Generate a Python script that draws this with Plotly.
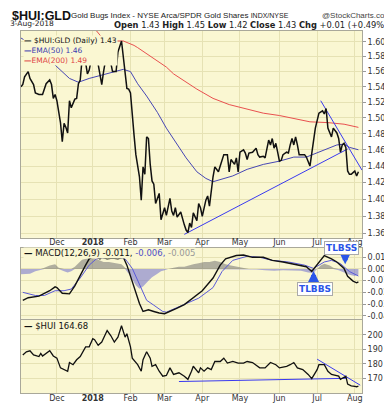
import math
import plotly.graph_objects as go

# ---------------- data ----------------
ratio_dates = ["2017-11-02","2017-11-03","2017-11-06","2017-11-08","2017-11-09","2017-11-13","2017-11-14","2017-11-16",
"2017-11-20","2017-11-21","2017-11-22","2017-11-27","2017-11-28","2017-11-29","2017-11-30","2017-12-01","2017-12-05",
"2017-12-06","2017-12-07","2017-12-08","2017-12-11","2017-12-12","2017-12-13","2017-12-15","2017-12-18","2017-12-19",
"2017-12-20","2017-12-21","2017-12-26","2017-12-27","2017-12-28","2018-01-02","2018-01-03","2018-01-04","2018-01-08",
"2018-01-09","2018-01-10","2018-01-11","2018-01-12","2018-01-16","2018-01-17","2018-01-18","2018-01-22","2018-01-23",
"2018-01-25","2018-01-26","2018-01-29","2018-01-30","2018-01-31","2018-02-01","2018-02-05","2018-02-06","2018-02-08",
"2018-02-09","2018-02-12","2018-02-13","2018-02-14","2018-02-15","2018-02-16","2018-02-20","2018-02-21","2018-02-22",
"2018-02-26","2018-02-27","2018-03-01","2018-03-02","2018-03-06","2018-03-07","2018-03-08","2018-03-09","2018-03-12",
"2018-03-14","2018-03-16","2018-03-19","2018-03-20","2018-03-21","2018-03-22","2018-03-23","2018-03-27","2018-03-28",
"2018-03-29","2018-04-02","2018-04-04","2018-04-05","2018-04-06","2018-04-09","2018-04-10","2018-04-11","2018-04-13",
"2018-04-16","2018-04-17","2018-04-18","2018-04-20","2018-04-23","2018-04-24","2018-04-26","2018-04-27","2018-04-30",
"2018-05-01","2018-05-03","2018-05-04","2018-05-07","2018-05-08","2018-05-10","2018-05-14","2018-05-15","2018-05-16",
"2018-05-18","2018-05-21","2018-05-23","2018-05-24","2018-05-25","2018-05-29","2018-05-30","2018-05-31","2018-06-01",
"2018-06-04","2018-06-05","2018-06-07","2018-06-08","2018-06-11","2018-06-12","2018-06-13","2018-06-14","2018-06-15",
"2018-06-18","2018-06-21","2018-06-22","2018-06-26","2018-06-28","2018-06-29","2018-07-03","2018-07-06","2018-07-09",
"2018-07-10","2018-07-11","2018-07-12","2018-07-13","2018-07-16","2018-07-18","2018-07-19","2018-07-20","2018-07-23",
"2018-07-24","2018-07-25","2018-07-26","2018-07-27","2018-07-30","2018-07-31","2018-08-01","2018-08-02","2018-08-03"]
ratio_vals = [1.540,1.543,1.553,1.560,1.551,1.543,1.532,1.530,
1.530,1.538,1.544,1.549,1.543,1.525,1.530,1.522,1.494,
1.470,1.493,1.488,1.481,1.522,1.513,1.524,1.525,1.544,
1.549,1.576,1.572,1.557,1.562,1.586,1.583,1.583,1.557,
1.543,1.560,1.575,1.590,1.601,1.572,1.560,1.560,1.586,
1.601,1.582,1.560,1.538,1.537,1.532,1.478,1.454,1.427,
1.399,1.439,1.430,1.476,1.474,1.442,1.422,1.418,1.395,
1.407,1.376,1.390,1.381,1.401,1.386,1.381,1.390,1.379,
1.385,1.370,1.364,1.361,1.372,1.367,1.384,1.375,1.395,
1.390,1.380,1.399,1.404,1.392,1.411,1.427,1.439,1.433,
1.440,1.448,1.454,1.454,1.433,1.448,1.442,1.450,1.433,
1.457,1.460,1.456,1.448,1.456,1.457,1.462,1.454,1.451,
1.452,1.450,1.472,1.466,1.474,1.462,1.468,1.457,1.446,
1.447,1.454,1.457,1.456,1.466,1.474,1.466,1.476,1.466,
1.454,1.454,1.451,1.440,1.474,1.487,1.506,1.509,1.505,
1.512,1.487,1.482,1.476,1.487,1.481,1.474,1.457,1.466,
1.468,1.463,1.434,1.430,1.430,1.432,1.434,1.428,1.433]

ema50_dates = ["2017-11-02","2017-11-13","2017-11-21","2017-12-01","2017-12-12","2017-12-19","2017-12-28","2018-01-10",
"2018-01-19","2018-01-26","2018-02-01","2018-02-07","2018-02-14","2018-02-23","2018-03-02","2018-03-12","2018-03-19",
"2018-03-27","2018-04-04","2018-04-10","2018-04-17","2018-04-25","2018-05-07","2018-05-18","2018-06-01","2018-06-13",
"2018-06-22","2018-07-02","2018-07-11","2018-07-18","2018-07-24","2018-07-27","2018-08-03"]
ema50_vals = [1.605,1.595,1.582,1.566,1.551,1.546,1.551,1.556,
1.560,1.563,1.560,1.544,1.528,1.507,1.487,1.466,1.450,
1.433,1.425,1.421,1.424,1.428,1.436,1.442,1.446,1.451,
1.451,1.456,1.462,1.466,1.467,1.463,1.460]

ema200_dates = ["2017-11-02","2017-12-01","2018-01-04","2018-01-10","2018-01-18","2018-01-26","2018-02-05","2018-02-07",
"2018-03-02","2018-03-08","2018-03-27","2018-04-04","2018-04-10","2018-04-23","2018-05-07","2018-05-18","2018-06-01",
"2018-06-13","2018-06-26","2018-07-11","2018-07-24","2018-08-03"]
ema200_vals = [1.660,1.640,1.615,1.603,1.601,1.601,1.595,1.592,
1.566,1.557,1.537,1.530,1.525,1.517,1.511,1.506,1.503,
1.499,1.495,1.494,1.492,1.488]

macd_dates = ["2017-11-03","2017-11-08","2017-11-16","2017-11-27","2017-11-30","2017-12-01","2017-12-06","2017-12-12",
"2017-12-15","2017-12-20","2017-12-26","2017-12-28","2018-01-03","2018-01-08","2018-01-09","2018-01-12","2018-01-18",
"2018-01-23","2018-01-26","2018-01-30","2018-02-02","2018-02-07","2018-02-08","2018-02-12","2018-02-15","2018-02-21",
"2018-02-26","2018-03-01","2018-03-06","2018-03-12","2018-03-16","2018-03-21","2018-03-23","2018-04-02","2018-04-10",
"2018-04-16","2018-04-19","2018-04-27","2018-05-03","2018-05-10","2018-05-18","2018-05-25","2018-06-05","2018-06-12",
"2018-06-19","2018-06-22","2018-06-27","2018-07-02","2018-07-09","2018-07-13","2018-07-18","2018-07-24","2018-07-26",
"2018-07-31","2018-08-02","2018-08-03"]
macd_vals = [-0.0268,-0.0246,-0.0233,-0.0186,-0.0153,-0.0159,-0.0208,-0.0213,
-0.0145,-0.0049,0.0033,0.0087,0.0115,0.0087,0.0100,0.0087,0.0093,
0.0087,0.0100,0.0033,-0.0104,-0.0240,-0.0295,-0.0364,-0.0350,-0.0364,
-0.0377,-0.0383,-0.0364,-0.0336,-0.0305,-0.0268,-0.0246,-0.0186,-0.0077,
0.0033,0.0087,0.0115,0.0120,0.0100,0.0100,0.0074,0.0060,0.0046,
0.0033,0.0019,-0.0022,0.0033,0.0115,0.0087,0.0060,0.0005,-0.0063,
-0.0104,-0.0118,-0.0110]

signal_dates = ["2017-11-03","2017-11-14","2017-11-21","2017-11-30","2017-12-07","2017-12-13","2017-12-20","2017-12-28",
"2018-01-04","2018-01-12","2018-01-24","2018-01-29","2018-02-02","2018-02-08","2018-02-14","2018-02-21","2018-02-28",
"2018-03-02","2018-03-13","2018-03-21","2018-03-28","2018-04-10","2018-04-17","2018-04-25","2018-05-07","2018-05-16",
"2018-05-25","2018-06-08","2018-06-21","2018-06-28","2018-07-09","2018-07-13","2018-07-20","2018-07-27","2018-08-02",
"2018-08-03"]
signal_vals = [-0.0200,-0.0227,-0.0227,-0.0186,-0.0186,-0.0172,-0.0077,0.0033,
0.0087,0.0100,0.0100,0.0087,0.0005,-0.0131,-0.0268,-0.0310,-0.0364,
-0.0370,-0.0323,-0.0280,-0.0250,-0.0159,-0.0022,0.0074,0.0109,0.0100,
0.0074,0.0060,0.0033,0.0005,0.0060,0.0074,0.0046,-0.0022,-0.0055,
-0.0060]

hist_dates = ["2017-11-02","2017-11-06","2017-11-09","2017-11-14","2017-11-17","2017-11-21","2017-11-27","2017-11-30",
"2017-12-04","2017-12-07","2017-12-11","2017-12-13","2017-12-15","2017-12-19","2017-12-21","2017-12-27","2018-01-02",
"2018-01-05","2018-01-10","2018-01-16","2018-01-22","2018-01-25","2018-01-29","2018-01-31","2018-02-02","2018-02-06",
"2018-02-08","2018-02-12","2018-02-15","2018-02-20","2018-02-23","2018-02-27","2018-03-01","2018-03-05","2018-03-08",
"2018-03-13","2018-03-16","2018-03-20","2018-03-23","2018-03-28","2018-04-03","2018-04-06","2018-04-11","2018-04-16",
"2018-04-19","2018-04-24","2018-04-27","2018-05-02","2018-05-08","2018-05-14","2018-05-21","2018-05-29","2018-06-05",
"2018-06-12","2018-06-19","2018-06-25","2018-06-28","2018-07-02","2018-07-05","2018-07-09","2018-07-12","2018-07-16",
"2018-07-19","2018-07-24","2018-07-27","2018-08-01","2018-08-03"]
hist_vals = [-0.0045,-0.0045,-0.0040,-0.0020,-0.0010,0.0010,0.0030,0.0040,
0.0010,-0.0020,-0.0030,-0.0020,0.0020,0.0050,0.0080,0.0090,0.0100,
0.0080,0.0060,0.0060,0.0050,0.0040,0.0010,-0.0040,-0.0090,-0.0140,
-0.0170,-0.0150,-0.0100,-0.0070,-0.0040,-0.0020,-0.0010,0.0000,0.0010,
0.0020,0.0020,0.0030,0.0040,0.0050,0.0060,0.0060,0.0070,0.0060,
0.0040,0.0030,0.0020,0.0010,0.0000,-0.0005,-0.0010,-0.0015,-0.0010,
-0.0010,-0.0015,-0.0030,-0.0035,0.0000,0.0030,0.0045,0.0030,0.0010,
-0.0010,-0.0030,-0.0050,-0.0060,-0.0050]

hui_dates = ["2017-11-03","2017-11-07","2017-11-09","2017-11-13","2017-11-16","2017-11-17","2017-11-20","2017-11-22",
"2017-11-27","2017-11-29","2017-12-01","2017-12-05","2017-12-07","2017-12-11","2017-12-12","2017-12-14","2017-12-18",
"2017-12-20","2017-12-26","2017-12-28","2018-01-02","2018-01-03","2018-01-05","2018-01-09","2018-01-12","2018-01-17",
"2018-01-19","2018-01-23","2018-01-25","2018-01-26","2018-01-29","2018-01-30","2018-02-01","2018-02-02","2018-02-07",
"2018-02-09","2018-02-12","2018-02-14","2018-02-16","2018-02-20","2018-02-22","2018-02-26","2018-02-28","2018-03-02",
"2018-03-06","2018-03-08","2018-03-13","2018-03-16","2018-03-20","2018-03-22","2018-03-23","2018-03-28","2018-03-29",
"2018-04-03","2018-04-05","2018-04-09","2018-04-11","2018-04-16","2018-04-18","2018-04-20","2018-04-25","2018-04-30",
"2018-05-03","2018-05-07","2018-05-10","2018-05-16","2018-05-21","2018-05-24","2018-05-30","2018-06-01","2018-06-07",
"2018-06-11","2018-06-13","2018-06-15","2018-06-20","2018-06-25","2018-06-27","2018-07-02","2018-07-03","2018-07-09",
"2018-07-11","2018-07-13","2018-07-17","2018-07-19","2018-07-20","2018-07-25","2018-07-26","2018-07-30","2018-08-01",
"2018-08-02","2018-08-03"]
hui_vals = [186.1,188.3,189.0,186.1,185.0,187.2,185.4,187.2,
189.0,185.4,183.9,177.2,176.0,174.9,180.9,179.4,182.8,
185.0,191.7,191.7,197.3,196.6,192.8,195.0,202.9,199.5,
195.0,198.4,206.2,201.7,198.4,200.7,191.7,183.9,179.4,
174.9,182.8,188.3,183.9,178.3,179.4,174.9,171.5,172.0,
177.2,172.7,173.8,171.5,169.3,174.9,178.3,173.8,177.2,
174.9,177.2,176.0,181.6,181.6,183.9,180.5,181.6,180.5,
180.5,181.6,180.9,177.2,177.2,180.9,179.4,177.2,178.3,
179.4,180.9,177.2,176.0,172.7,169.8,176.0,179.4,179.4,
174.9,172.7,172.0,171.5,169.3,171.5,166.0,164.8,164.4,
164.2,164.68]

# hand-drawn trend lines (endpoints)
ratio_up_dates, ratio_up_vals = ["2018-03-16", "2018-07-26"], [1.359, 1.461]
ratio_dn_dates, ratio_dn_vals = ["2018-07-05", "2018-08-07"], [1.522, 1.435]
hui_flat_dates, hui_flat_vals = ["2018-03-13", "2018-07-25"], [167.8, 170.0]
hui_dn_dates, hui_dn_vals = ["2018-07-02", "2018-08-06"], [183.2, 165.3]

month_ticks = ["2017-12-01","2018-01-02","2018-02-01","2018-03-01","2018-04-02","2018-05-01","2018-06-01","2018-07-02","2018-08-01"]
month_labels = ["Dec","<b>2018</b>","Feb","Mar","Apr","May","Jun","Jul","Aug"]
ratio_ticks = [1.36,1.38,1.40,1.42,1.44,1.46,1.48,1.50,1.52,1.54,1.56,1.58,1.60]
macd_ticks = [0.01,0.00,-0.01,-0.02,-0.03,-0.04]
macd_tick_labels = ["0.01","0.00","-0.01","-0.02","-0.03","-0.04"]
hui_ticks = [170,180,190,200]
holidays = ["2017-11-23","2017-12-25","2018-01-01","2018-01-15","2018-02-19","2018-03-30","2018-05-28","2018-07-04"]

# ---------------- styling ----------------
W, H = 392, 407
L, R, T, B = 13, 34, 23, 13
PW, PH = W - L - R, H - T - B
BG = "#faf7d2"
GRID = "#e6e2b4"
FRAME = "#a9a89a"
FONT = "DejaVu Sans"
TXT = "#333333"
BLUE_TL = "#3a3af0"
ARROW = "#2a55e8"

def px_x(X):
    return (X - L) / PW

def px_y(Y):
    return (H - B - Y) / PH

fig = go.Figure()

# main panel
fig.add_trace(go.Scatter(x=ema200_dates, y=ema200_vals, mode="lines", line=dict(color="#e8504f", width=1), xaxis="x", yaxis="y"))
fig.add_trace(go.Scatter(x=ema50_dates, y=ema50_vals, mode="lines", line=dict(color="#4646b4", width=1), xaxis="x", yaxis="y"))
fig.add_trace(go.Scatter(x=ratio_up_dates, y=ratio_up_vals, mode="lines", line=dict(color=BLUE_TL, width=1), xaxis="x", yaxis="y"))
fig.add_trace(go.Scatter(x=ratio_dn_dates, y=ratio_dn_vals, mode="lines", line=dict(color=BLUE_TL, width=1), xaxis="x", yaxis="y"))
fig.add_trace(go.Scatter(x=ratio_dates, y=ratio_vals, mode="lines", line=dict(color="#111111", width=1.5), xaxis="x", yaxis="y"))

# MACD panel
hist_pos = [max(v, 0) for v in hist_vals]
hist_neg = [min(v, 0) for v in hist_vals]
fig.add_trace(go.Scatter(x=hist_dates, y=hist_pos, mode="lines", line=dict(width=0), fill="tozeroy",
                         fillcolor="rgba(115,115,115,0.55)", xaxis="x2", yaxis="y2"))
fig.add_trace(go.Scatter(x=hist_dates, y=hist_neg, mode="lines", line=dict(width=0), fill="tozeroy",
                         fillcolor="rgba(110,110,205,0.55)", xaxis="x2", yaxis="y2"))
fig.add_trace(go.Scatter(x=signal_dates, y=signal_vals, mode="lines", line=dict(color="#5a5ad8", width=1), xaxis="x2", yaxis="y2"))
fig.add_trace(go.Scatter(x=macd_dates, y=macd_vals, mode="lines", line=dict(color="#111111", width=1.4), xaxis="x2", yaxis="y2"))

# HUI panel
fig.add_trace(go.Scatter(x=hui_flat_dates, y=hui_flat_vals, mode="lines", line=dict(color=BLUE_TL, width=1), xaxis="x3", yaxis="y3"))
fig.add_trace(go.Scatter(x=hui_dn_dates, y=hui_dn_vals, mode="lines", line=dict(color=BLUE_TL, width=1), xaxis="x3", yaxis="y3"))
fig.add_trace(go.Scatter(x=hui_dates, y=hui_vals, mode="lines", line=dict(color="#111111", width=1.3), xaxis="x3", yaxis="y3"))

rb = [dict(bounds=["sat", "mon"]), dict(values=holidays)]
xrange = ["2017-11-02", "2018-08-07"]

def xaxis(dom_anchor, labels):
    return dict(domain=[0, 1], anchor=dom_anchor, range=xrange, rangebreaks=rb, type="date",
                tickvals=month_ticks, ticktext=month_labels, showticklabels=labels,
                tickfont=dict(family=FONT, size=8, color=TXT), ticks="", ticklabelstandoff=-3,
                showgrid=True, gridcolor=GRID, gridwidth=1, zeroline=False,
                showline=True, mirror=True, linecolor=FRAME, linewidth=1, fixedrange=True)

def yaxis(domain, anchor, **kw):
    d = dict(domain=domain, anchor=anchor, side="right", showgrid=True, gridcolor=GRID, gridwidth=1,
             zeroline=False, showline=True, mirror=True, linecolor=FRAME, linewidth=1,
             ticks="outside", ticklen=3, tickcolor="#999999",
             tickfont=dict(family=FONT, size=8, color=TXT), fixedrange=True)
    d.update(kw)
    return d

fig.update_layout(
    width=W, height=H, margin=dict(l=L, r=R, t=T, b=B, pad=0),
    paper_bgcolor="white", plot_bgcolor=BG, showlegend=False,
    xaxis=xaxis("y", True),
    xaxis2=xaxis("y2", False),
    xaxis3=xaxis("y3", True),
    yaxis=yaxis([px_y(235), 1], "x", type="log", range=[math.log10(1.355), math.log10(1.6146)],
                tickvals=ratio_ticks, ticktext=["%.2f" % v for v in ratio_ticks]),
    yaxis2=yaxis([px_y(318), px_y(245)], "x2", range=[-0.0427, 0.0183],
                 tickvals=macd_ticks, ticktext=macd_tick_labels),
    yaxis3=yaxis([0, px_y(319)], "x3", range=[159.9, 210.3], tickvals=hui_ticks,
                 ticktext=[str(v) for v in hui_ticks]),
)

ann = []
def txt(X, Y, text, size=8, color=TXT, xanchor="left", yanchor="middle", bg=None, family=FONT, border=None, pad=1):
    a = dict(xref="paper", yref="paper", x=px_x(X), y=px_y(Y), text=text, showarrow=False,
             xanchor=xanchor, yanchor=yanchor, align="left", font=dict(family=family, size=size, color=color),
             borderpad=pad)
    if bg:
        a["bgcolor"] = bg
    if border:
        a["bordercolor"] = border
        a["borderwidth"] = 1
    ann.append(a)

def arrow(X, Y, dy):
    ann.append(dict(xref="paper", yref="paper", x=px_x(X), y=px_y(Y), text="", showarrow=True,
                    ax=0, ay=dy, arrowhead=2, arrowsize=0.6, arrowwidth=5, arrowcolor=ARROW))

# header
txt(2, 7.5, "<b>$HUI:GLD</b>", size=12.5, color="#111", family="Liberation Sans")
txt(62, 7.5, "Gold Bugs Index - NYSE Arca/SPDR Gold Shares <span style='font-size:7px'>INDX/NYSE</span>", size=8, color="#222", family="Liberation Sans")
txt(389, 7.5, "@StockCharts.com", size=8, color="#444", xanchor="right", family="Liberation Sans")
txt(1, 15.5, "3-Aug-2018", size=7.5, color="#222", pad=0)
txt(389, 16.5, "<b>Open</b> 1.43 <b>High</b> 1.45 <b>Low</b> 1.42 <b>Close</b> 1.43 <b>Chg</b> +0.01 (+0.49%)<span style='font-size:6px'>▲</span>",
    size=8.3, color="#222", xanchor="right", pad=0)

# legends
txt(15, 27, "<b>—</b> $HUI:GLD (Daily) 1.43<br>"
            "<span style='color:#3b3bb0'><b>—</b>EMA(50) 1.46</span><br>"
            "<span style='color:#e04545'><b>—</b>EMA(200) 1.49</span>",
    size=7.5, color="#111", yanchor="top", bg=BG, pad=0)
txt(15, 251, "<b>—</b> MACD(12,26,9) -0.011, <span style='color:#5050c8'>-0.006,</span> <span style='color:#999'>-0.005</span>",
    size=8.5, color="#111", bg=BG, pad=0)
txt(15, 325, "<b>—</b> $HUI 164.68", size=8.5, color="#111", bg=BG, pad=0)

# TLBSS / TLBBS call-outs
arrow(341, 262, -9)
txt(337, 245, "<b>TLBSS</b>", size=9, color=ARROW, xanchor="center", bg="white", border="#aaaaaa")
arrow(309, 269, 10)
txt(310, 287, "<b>TLBBS</b>", size=9, color=ARROW, xanchor="center", bg="white", border="#aaaaaa")

fig.update_layout(annotations=ann)
fig.write_html("out.html")
